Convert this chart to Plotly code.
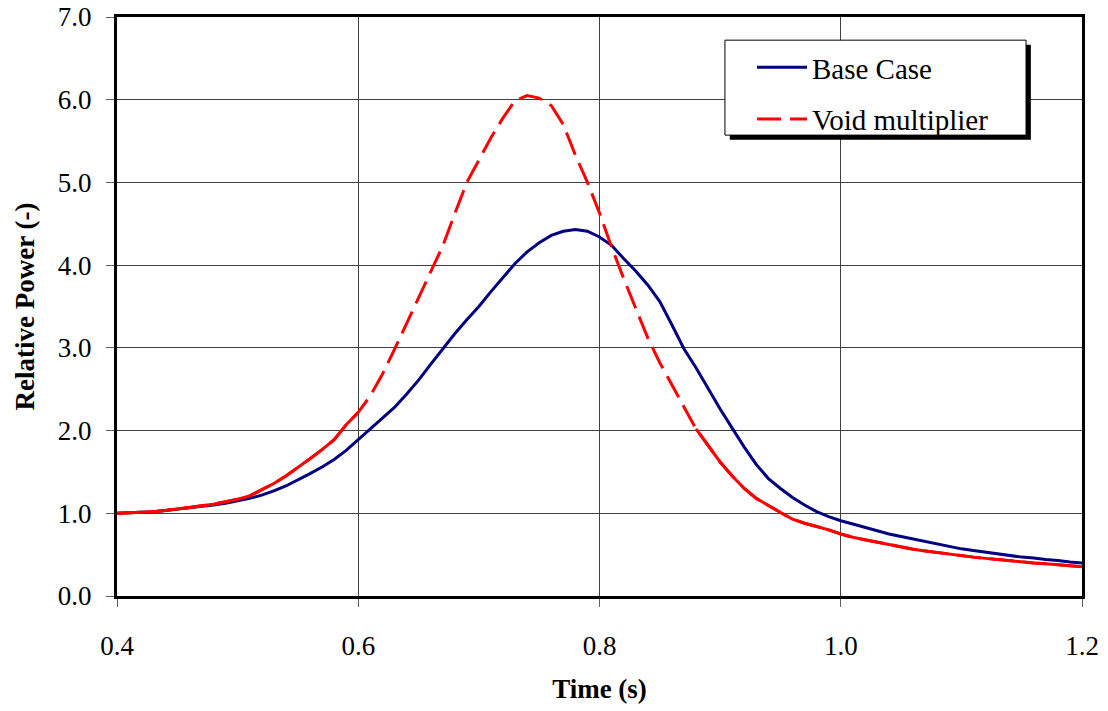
import plotly.graph_objects as go

time_s = [round(0.40 + 0.01 * i, 2) for i in range(81)]

base_case = [
    1.00, 1.005, 1.01, 1.02, 1.035, 1.05, 1.065, 1.08, 1.10, 1.12,   # 0.40-0.49
    1.15, 1.18, 1.22, 1.27, 1.33, 1.40, 1.48, 1.56, 1.65, 1.76,      # 0.50-0.59
    1.89, 2.02, 2.15, 2.28, 2.44, 2.61, 2.80, 2.99, 3.17, 3.34,      # 0.60-0.69
    3.50, 3.68, 3.85, 4.02, 4.16, 4.27, 4.36, 4.41, 4.43, 4.41,      # 0.70-0.79
    4.34, 4.24, 4.08, 3.93, 3.76, 3.56, 3.28, 2.99, 2.76, 2.51,      # 0.80-0.89
    2.26, 2.03, 1.80, 1.59, 1.42, 1.30, 1.19, 1.10, 1.02, 0.96,      # 0.90-0.99
    0.91, 0.87, 0.83, 0.79, 0.75, 0.72, 0.69, 0.66, 0.63, 0.60,      # 1.00-1.09
    0.57, 0.55, 0.53, 0.51, 0.49, 0.47, 0.46, 0.44, 0.43, 0.41,      # 1.10-1.19
    0.40,                                                            # 1.20
]

void_multiplier = [
    1.00, 1.005, 1.01, 1.02, 1.035, 1.05, 1.07, 1.09, 1.11, 1.14,    # 0.40-0.49
    1.17, 1.21, 1.28, 1.36, 1.45, 1.55, 1.66, 1.77, 1.89, 2.07,      # 0.50-0.59
    2.22, 2.42, 2.68, 2.98, 3.29, 3.60, 3.91, 4.23, 4.62, 5.00,      # 0.60-0.69
    5.27, 5.54, 5.78, 5.99, 6.05, 6.02, 5.93, 5.70, 5.33, 5.00,      # 0.70-0.79
    4.63, 4.22, 3.84, 3.48, 3.12, 2.82, 2.55, 2.29, 2.02, 1.82,      # 0.80-0.89
    1.62, 1.45, 1.30, 1.18, 1.09, 1.01, 0.93, 0.88, 0.84, 0.80,      # 0.90-0.99
    0.75, 0.71, 0.68, 0.65, 0.62, 0.59, 0.565, 0.545, 0.525, 0.505,  # 1.00-1.09
    0.485, 0.47, 0.455, 0.44, 0.425, 0.41, 0.40, 0.39, 0.375, 0.365, # 1.10-1.19
    0.355,                                                           # 1.20
]

x_ticks = [0.4, 0.6, 0.8, 1.0, 1.2]
x_tick_labels = ["0.4", "0.6", "0.8", "1.0", "1.2"]
y_ticks = [0, 1, 2, 3, 4, 5, 6, 7]
y_tick_labels = ["0.0", "1.0", "2.0", "3.0", "4.0", "5.0", "6.0", "7.0"]

FONT = "Liberation Serif, Times New Roman, serif"
BLUE = "#000080"
RED = "#FF0000"

fig = go.Figure()

fig.add_trace(go.Scatter(
    x=time_s, y=base_case, mode="lines", name="Base Case",
    line=dict(color=BLUE, width=3), legendgroup="a",
))
fig.add_trace(go.Scatter(
    x=time_s, y=void_multiplier, mode="lines", name="Void multiplier",
    line=dict(color=RED, width=3, dash="24px,9px"), legendgroup="b",
))
# flat portions of the dashed curve render as solid in the original
i0 = time_s.index(0.60)
i1 = time_s.index(0.88)
fig.add_trace(go.Scatter(
    x=time_s[:i0 + 1], y=void_multiplier[:i0 + 1], mode="lines",
    line=dict(color=RED, width=3), showlegend=False, hoverinfo="skip",
))
fig.add_trace(go.Scatter(
    x=time_s[i1:], y=void_multiplier[i1:], mode="lines",
    line=dict(color=RED, width=3), showlegend=False, hoverinfo="skip",
))

axis_common = dict(
    showline=True, linecolor="black", linewidth=3, mirror=True,
    showgrid=True, gridcolor="#404040", gridwidth=1,
    ticks="outside", ticklen=8, tickcolor="#606060", tickwidth=1,
    tickfont=dict(family=FONT, size=27, color="black"),
    zeroline=False,
)

fig.update_xaxes(
    range=[0.4, 1.2], tickvals=x_ticks, ticktext=x_tick_labels,
    ticklabelstandoff=16,
    title=dict(text="<b>Time (s)</b>", font=dict(family=FONT, size=27, color="black"), standoff=19),
    **axis_common,
)
fig.update_yaxes(
    range=[0, 7], tickvals=y_ticks, ticktext=y_tick_labels,
    ticklabelstandoff=9,
    title=dict(text="<b>Relative Power (-)</b>", font=dict(family=FONT, size=27, color="black"), standoff=16),
    **axis_common,
)

# legend box with drop shadow
fig.add_shape(type="rect", xref="paper", yref="paper", layer="above",
              x0=0.635, x1=0.947, y0=0.788, y1=0.952,
              fillcolor="black", line=dict(width=0))
fig.add_shape(type="rect", xref="paper", yref="paper", layer="above",
              x0=0.630, x1=0.942, y0=0.796, y1=0.960,
              fillcolor="white", line=dict(color="black", width=1))

fig.update_layout(
    width=1108, height=711,
    margin=dict(l=117, r=26, t=17, b=115, autoexpand=False),
    paper_bgcolor="white", plot_bgcolor="white",
    font=dict(family=FONT, color="black"),
    showlegend=True,
    legend=dict(
        x=0.658, y=0.957, xanchor="left", yanchor="top",
        bgcolor="rgba(0,0,0,0)", borderwidth=0,
        font=dict(family=FONT, size=29, color="black"),
        tracegroupgap=11, itemwidth=50,
    ),
)

fig.write_html("out.html")
